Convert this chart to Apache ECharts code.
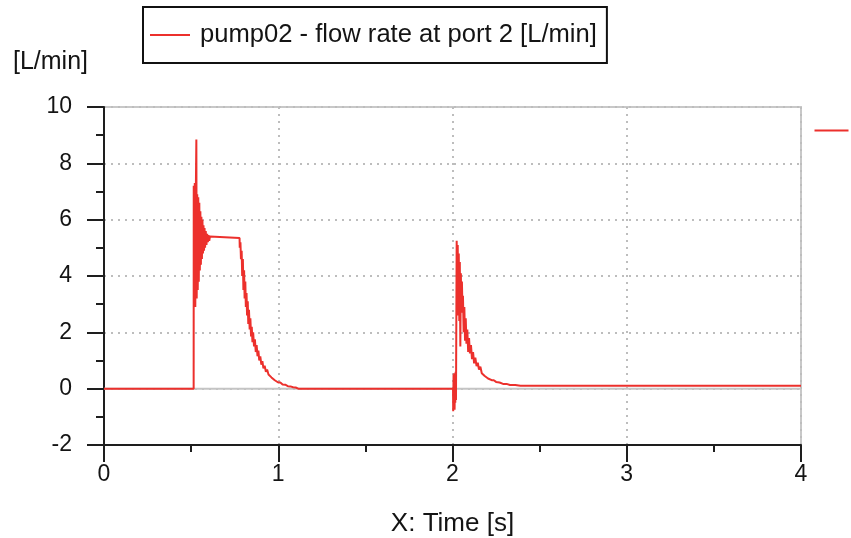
<!DOCTYPE html>
<html>
<head>
<meta charset="utf-8">
<script src="https://cdn.jsdelivr.net/npm/echarts@6/dist/echarts.min.js"></script>
<style>
  html, body { margin: 0; padding: 0; background: #ffffff; }
  #chart { width: 851px; height: 538px; }
</style>
</head>
<body>
<div id="chart"></div>
<script>
// ---- data ----
var seriesName = 'pump02 - flow rate at port 2 [L/min]';
var yUnit = '[L/min]';
var xTitle = 'X: Time [s]';
var xTicks = [0, 1, 2, 3, 4];
var yTicks = [-2, 0, 2, 4, 6, 8, 10];

// time [s]
var time = [
  0, 0.5145,
  0.515, 0.518, 0.521, 0.524, 0.527, 0.530, 0.532, 0.535, 0.538, 0.541,
  0.544, 0.547, 0.550, 0.553, 0.556, 0.559, 0.562, 0.565, 0.568, 0.571,
  0.574, 0.577, 0.580, 0.584, 0.588, 0.592, 0.596, 0.600, 0.604, 0.608,
  0.612,
  0.778, 0.779, 0.783, 0.786, 0.790, 0.793, 0.797, 0.800, 0.804,
  0.807, 0.811, 0.814, 0.818, 0.821, 0.825, 0.828, 0.832, 0.836, 0.840, 0.844,
  0.848, 0.852, 0.856, 0.861, 0.866, 0.871, 0.876, 0.881, 0.886, 0.891, 0.897,
  0.903, 0.909, 0.915, 0.922, 0.929, 0.936, 0.944, 0.952, 0.961, 0.970, 0.980,
  0.990, 1.000, 1.012, 1.025, 1.040, 1.055, 1.070, 1.085, 1.100, 1.115,
  2.003, 2.004, 2.006, 2.008, 2.010, 2.012, 2.014, 2.016, 2.018, 2.020, 2.024,
  2.027, 2.030, 2.033, 2.036, 2.039, 2.042, 2.045, 2.048, 2.051, 2.054, 2.057,
  2.060, 2.064, 2.068, 2.072, 2.076, 2.080, 2.085, 2.090, 2.095, 2.100, 2.106,
  2.112, 2.118, 2.124, 2.131, 2.138, 2.145, 2.152, 2.160, 2.168, 2.176, 2.185,
  2.194, 2.204, 2.214, 2.225, 2.237, 2.250, 2.270, 2.290, 2.310, 2.330, 2.360,
  2.390, 4.000
];
// flow rate [L/min]
var flow = [
  0, 0,
  7.2, 3.0, 7.3, 2.9, 7.0, 8.85, 3.2, 6.9, 3.5, 6.8,
  3.8, 6.6, 4.2, 6.3, 4.4, 6.1, 4.6, 6.0, 4.8, 5.8,
  4.9, 5.7, 5.0, 5.6, 5.1, 5.5, 5.2, 5.45, 5.25, 5.4,
  5.35,
  5.35, 5.0, 5.2, 4.6, 4.9, 4.0, 4.6, 3.5, 4.2,
  3.2, 3.8, 2.9, 3.4, 2.6, 3.1, 2.3, 2.8, 2.1, 2.5, 1.85,
  2.2, 1.65, 2.0, 1.5, 1.75, 1.3, 1.55, 1.15, 1.35, 1.0, 1.15,
  0.85, 0.98, 0.72, 0.82, 0.6, 0.68, 0.5, 0.55, 0.4, 0.43, 0.3,
  0.32, 0.22, 0.22, 0.15, 0.14, 0.09, 0.08, 0.05, 0.04, 0.0,
  0.0, -0.8, 0.5, -0.7, 0.55, -0.75, 0.4, -0.5, 0.6, -0.4, 5.25,
  2.9, 5.1, 2.6, 4.8, 2.4, 4.5, 1.5, 4.1, 2.7, 3.8, 2.9,
  3.3, 2.0, 2.9, 1.7, 2.5, 1.6, 2.1, 1.3, 1.8, 1.25, 1.55,
  1.05, 1.3, 0.9, 1.1, 0.8, 0.92, 0.68, 0.78, 0.55, 0.62, 0.45,
  0.5, 0.36, 0.4, 0.3, 0.3, 0.24, 0.22, 0.17, 0.17, 0.13, 0.13,
  0.1, 0.1
];

var points = time.map(function (t, i) { return [t, flow[i]]; });

var FONT = '"Liberation Sans", Arial, sans-serif';
var TXT = '#141414';
var RED = '#ec302c';

var chart = echarts.init(document.getElementById('chart'), null, { renderer: 'canvas' });
chart.setOption({
  animation: false,
  backgroundColor: '#ffffff',
  textStyle: { fontFamily: FONT },
  grid: {
    left: 104, right: 50, top: 107, bottom: 93,
    containLabel: false, outerBoundsMode: 'none',
    show: true, borderColor: '#c8c8c8', borderWidth: 2, backgroundColor: 'transparent'
  },
  legend: {
    data: [seriesName],
    left: 143, top: 7,
    orient: 'horizontal',
    borderColor: '#111', borderWidth: 2, borderRadius: 0,
    padding: [15, 10, 15, 7],
    icon: 'rect', itemWidth: 40, itemHeight: 2,
    textStyle: { fontFamily: FONT, fontSize: 25.6, color: TXT, padding: [0, 0, 0, 5] },
    selectedMode: false
  },
  xAxis: {
    type: 'value', min: xTicks[0], max: xTicks[xTicks.length - 1], interval: 1,
    name: xTitle, nameLocation: 'middle', nameGap: 66,
    nameTextStyle: { fontFamily: FONT, fontSize: 26, color: TXT },
    axisLine: { show: true, onZero: false, lineStyle: { color: '#1e1e1e', width: 2 } },
    axisTick: { show: true, length: 17, lineStyle: { color: '#1e1e1e', width: 2 } },
    minorTick: { show: true, splitNumber: 2, length: 7, lineStyle: { color: '#1e1e1e', width: 2 } },
    axisLabel: { margin: 18, fontFamily: FONT, fontSize: 23, color: TXT },
    splitLine: { show: true, lineStyle: { color: '#bdbdbd', width: 2, type: [2, 5] } }
  },
  yAxis: {
    type: 'value', min: yTicks[0], max: yTicks[yTicks.length - 1], interval: 2,
    name: yUnit, nameLocation: 'end', nameGap: 32,
    nameTextStyle: { fontFamily: FONT, fontSize: 25, color: TXT, align: 'right', padding: [0, 16, 0, 0] },
    axisLine: { show: true, onZero: false, lineStyle: { color: '#1e1e1e', width: 2 } },
    axisTick: { show: true, length: 17, lineStyle: { color: '#1e1e1e', width: 2 } },
    minorTick: { show: true, splitNumber: 2, length: 8, lineStyle: { color: '#1e1e1e', width: 2 } },
    axisLabel: { margin: 32, fontFamily: FONT, fontSize: 23, color: TXT },
    splitLine: { show: true, lineStyle: { color: '#bdbdbd', width: 2, type: [2, 5] } }
  },
  graphic: [{
    type: 'line', right: 0, top: 128, z: 10,
    shape: { x1: 0, y1: 0, x2: 34, y2: 0 },
    style: { stroke: RED, lineWidth: 2 }
  }],
  series: [
    {
      name: 'zero', type: 'line', z: 1, silent: true, showSymbol: false,
      data: [[xTicks[0], 0], [xTicks[xTicks.length - 1], 0]],
      lineStyle: { color: '#c4c4c4', width: 2 }
    },
    {
      name: seriesName, type: 'line', z: 3, showSymbol: false, sampling: null,
      data: points,
      itemStyle: { color: RED },
      lineStyle: { color: RED, width: 2 }
    }
  ]
});
</script>
</body>
</html>
